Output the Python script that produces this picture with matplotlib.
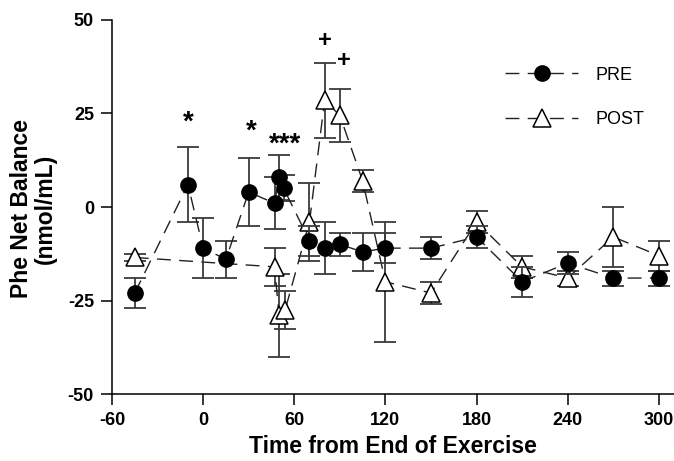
import numpy as np
import matplotlib.pyplot as plt

plt.rcParams['font.family'] = ['Liberation Sans', 'DejaVu Sans']
plt.rcParams['axes.unicode_minus'] = False

# ---- data
pre_t = [-45, -10, 0, 15, 30, 47, 50, 53, 70, 80, 90, 105, 120, 150, 180, 210, 240, 270, 300]
pre_y = [-23, 6, -11, -14, 4, 1, 8, 5, -9, -11, -10, -12, -11, -11, -8, -20, -15, -19, -19]
pre_err = [4, 10, 8, 5, 9, 7, 6, 3.5, 4, 7, 3, 5, 4, 3, 3, 4, 3, 2, 2]

post_t = [-45, 47, 50, 54, 70, 80, 90, 105, 120, 150, 180, 210, 240, 270, 300]
post_y = [-13.5, -16, -29, -27.5, -4, 28.5, 24.5, 7, -20, -23, -4, -16, -19, -8, -13]
post_err = [1, 5, 11, 5, 10.5, 10, 7, 3, 16, 3, 3, 3, 2, 8, 4]

# significance marks (label, time, value)
marks = [('*', -9.5, 22.6), ('*', 32, 20.1), ('***', 54, 16.8),
         ('+', 80, 44.5), ('+', 92.4, 39.1)]

fig = plt.figure(figsize=(6.74, 4.61), dpi=100)
ax = fig.add_axes([112/674, 1 - 394/461, 1 - 112/674, (394 - 20)/461])

dash = (10, 6)
ebar_col = '#3a3a3a'

# POST first so PRE circles sit on top
ax.errorbar(post_t, post_y, yerr=post_err, fmt='none', ecolor=ebar_col,
            elinewidth=1.3, capsize=8, capthick=1.3, zorder=2)
post_line, = ax.plot(post_t, post_y, color='#222222', lw=1.0, dashes=dash,
                     marker='^', ms=13, mfc='white', mec='black', mew=1.1,
                     zorder=3, label='POST')

ax.errorbar(pre_t, pre_y, yerr=pre_err, fmt='none', ecolor=ebar_col,
            elinewidth=1.3, capsize=8, capthick=1.3, zorder=4)
pre_line, = ax.plot(pre_t, pre_y, color='#222222', lw=1.0, dashes=dash,
                    marker='o', ms=11, mfc='black', mec='black',
                    zorder=5, label='PRE')

for txt, tx, ty in marks:
    size = 20 if txt != '+' else 17
    ax.text(tx, ty, txt, ha='center', va='center', fontsize=size,
            fontweight='bold', zorder=6)

ax.set_xlim(-60, 310)
ax.set_ylim(-50, 50)
ax.set_xticks([-60, 0, 60, 120, 180, 240, 300])
ax.set_yticks([-50, -25, 0, 25, 50])
for s in ['top', 'right']:
    ax.spines[s].set_visible(False)
for s in ['left', 'bottom']:
    ax.spines[s].set_linewidth(1.1)
ax.tick_params(direction='out', length=8, width=1.1, pad=5, labelsize=13)
for lab in ax.get_xticklabels() + ax.get_yticklabels():
    lab.set_fontweight('bold')

ax.set_xlabel('Time from End of Exercise', fontsize=16.5, fontweight='bold',
              labelpad=4)
fig.text(22/674, 1 - 209/461, 'Phe Net Balance', rotation=90, ha='center',
         va='center', fontsize=16.5, fontweight='bold')
fig.text(45/674, 1 - 209/461, '(nmol/mL)', rotation=90, ha='center',
         va='center', fontsize=16.5, fontweight='bold')

ax.legend(handles=[pre_line, post_line], loc='upper left',
          bbox_to_anchor=(0.70, 0.875), frameon=False, fontsize=13,
          handlelength=4, handletextpad=1.0, labelspacing=1.5,
          borderpad=0, borderaxespad=0, numpoints=1)

fig.savefig('out.png', dpi=100)
